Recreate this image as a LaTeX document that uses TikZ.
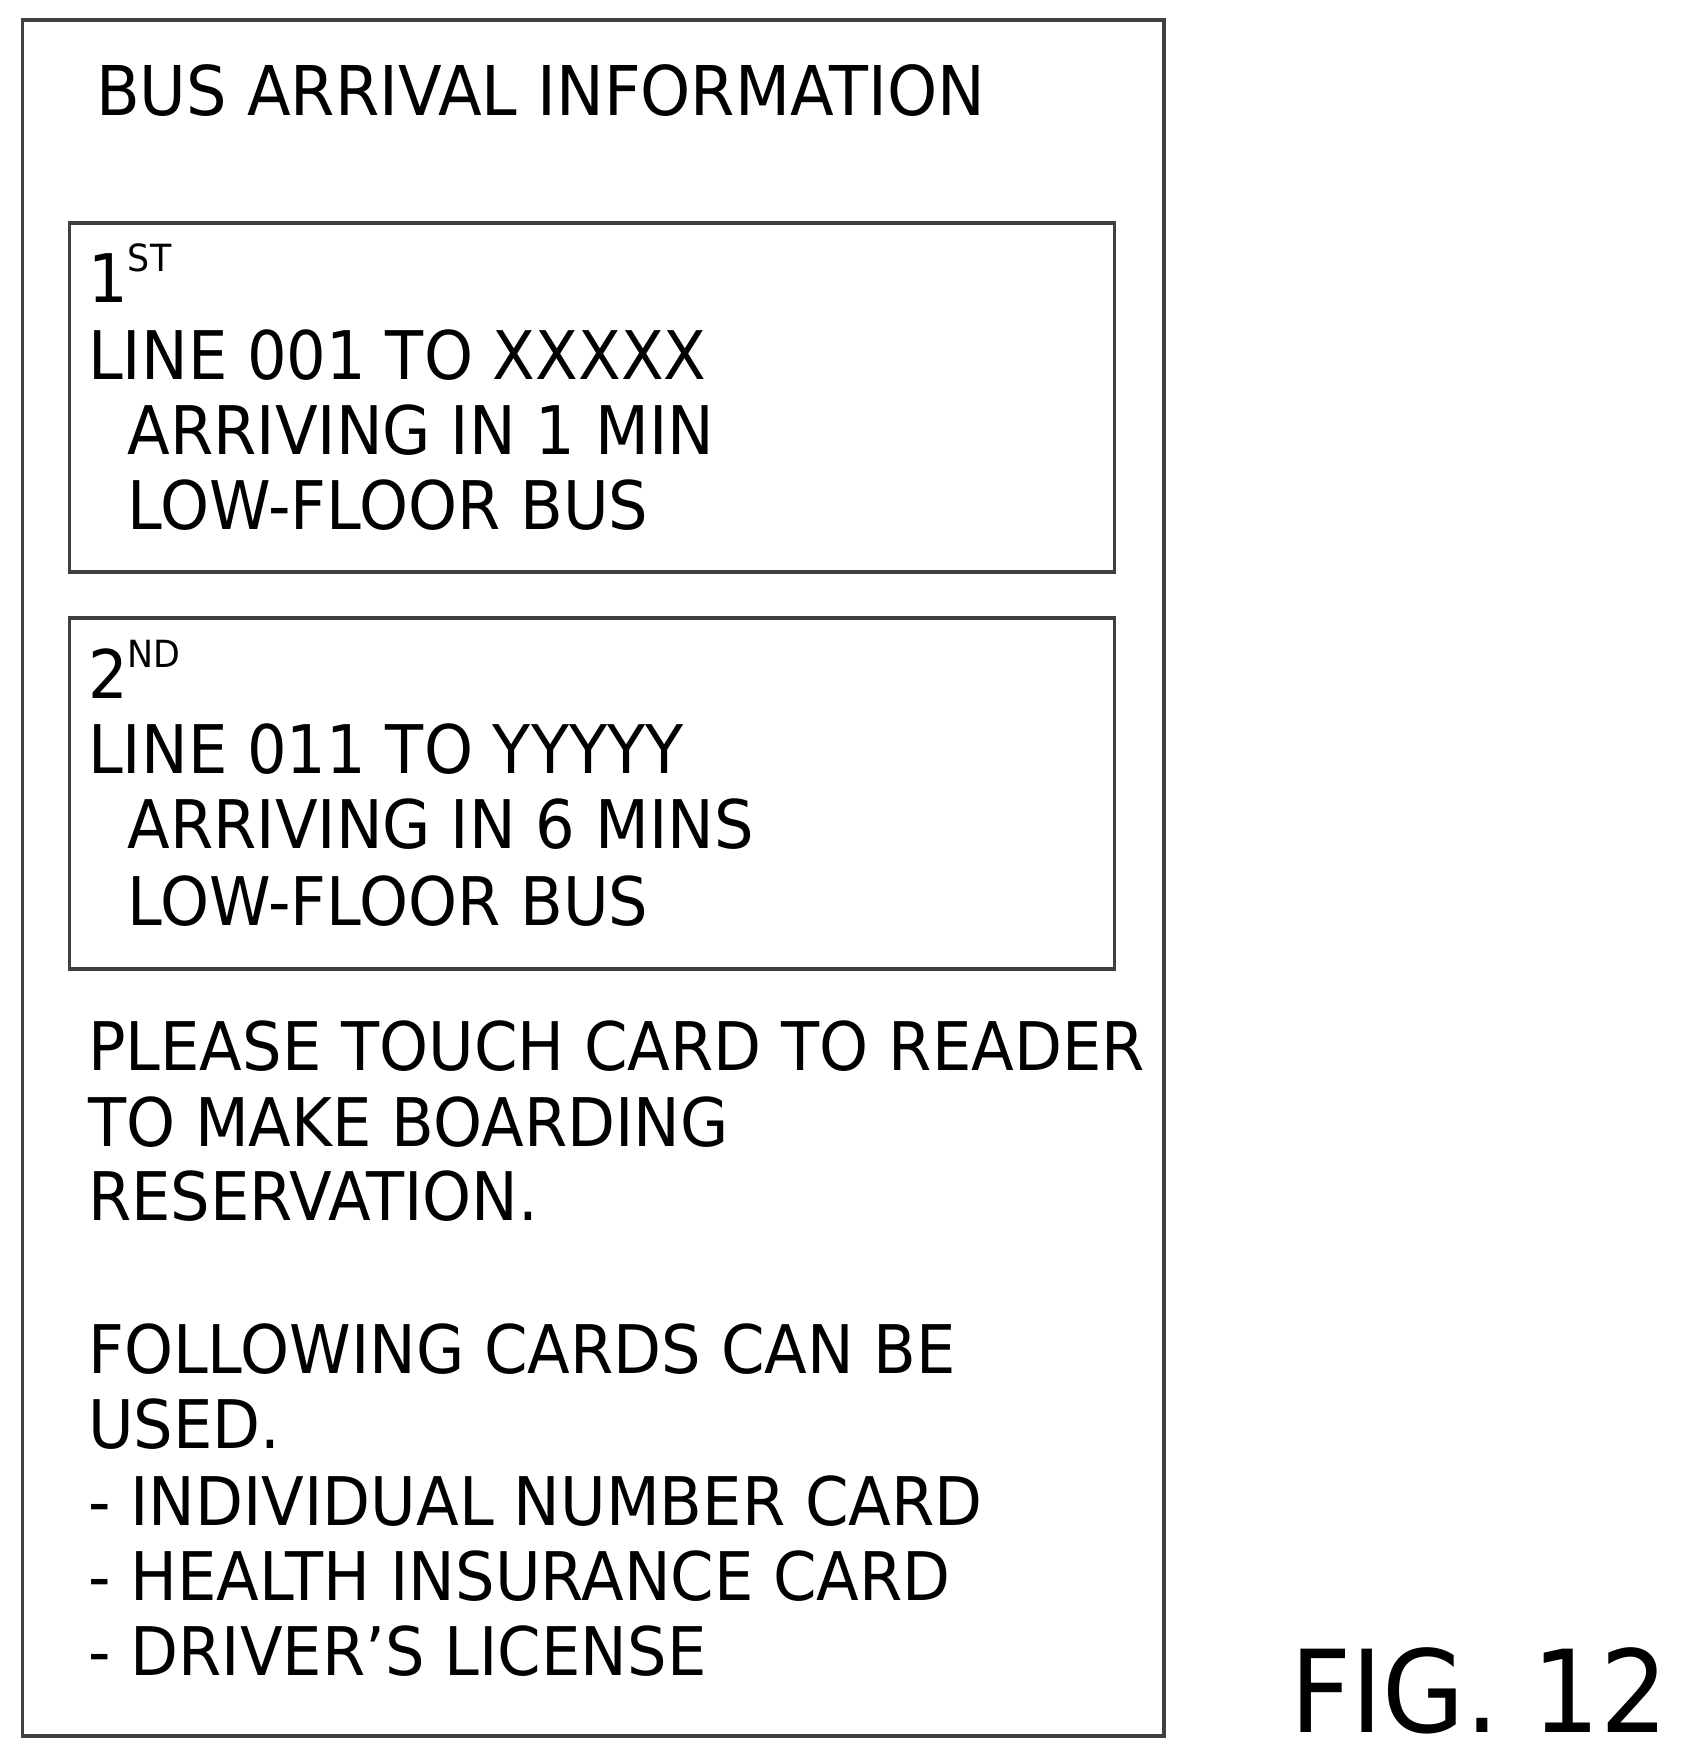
\documentclass[tikz,border=0pt]{standalone}
\usepackage{fontspec}
\setmainfont[FakeStretch=0.93]{DejaVu Sans}
\usetikzlibrary{positioning}
\tikzset{
  panel/.style={draw=black!75, line width=0.9pt},
  txt/.style={anchor=base west, inner sep=0pt, font=\fontsize{17}{20}\selectfont}
}
\newcommand{\ordsup}[1]{\raisebox{0.85ex}{\fontsize{9.5}{11}\selectfont #1}}
\begin{document}
\begin{tikzpicture}[x=0.01cm, y=-0.01cm]
  \useasboundingbox (0,0) rectangle (1500,1566);
  % frames
  \draw[panel] (20,18) rectangle (1038,1548);
  \draw[panel] (62,199) rectangle (994,510);
  \draw[panel] (62,551) rectangle (994,864);

  % title
  \node[txt, font=\fontsize{17.4}{20}\selectfont] (title) at (85,103) {BUS ARRIVAL INFORMATION};

  % first bus
  \node[txt] (first) at (78,270) {1\ordsup{ST}};
  \node[txt] (line1) at (78,338) {LINE 001 TO XXXXX};
  \node[txt] (arr1) at (113,405) {ARRIVING IN 1 MIN};
  \node[txt] (low1) at (113,472) {LOW-FLOOR BUS};

  % second bus
  \node[txt] (second) at (78,623) {2\ordsup{ND}};
  \node[txt] (line2) at (78,690) {LINE 011 TO YYYYY};
  \node[txt] (arr2) at (113,757) {ARRIVING IN 6 MINS};
  \node[txt] (low2) at (113,825) {LOW-FLOOR BUS};

  % message
  \node[txt] (msg1) at (78,955) {PLEASE TOUCH CARD TO READER};
  \node[txt] (msg2) at (78,1022) {TO MAKE BOARDING};
  \node[txt] (msg3) at (78,1088) {RESERVATION.};

  % cards
  \node[txt] (cards1) at (78,1225) {FOLLOWING CARDS CAN BE};
  \node[txt] (cards2) at (78,1292) {USED.};
  \node[txt] (card1) at (78,1360) {- INDIVIDUAL NUMBER CARD};
  \node[txt] (card2) at (78,1427) {- HEALTH INSURANCE CARD};
  \node[txt] (card3) at (78,1494) {- DRIVER{\char"0027}S LICENSE};

  % figure label
  \node[anchor=base west, inner sep=0pt, font=\fontsize{29}{32}\selectfont] (fig) at (1150,1545) {FIG. 12};
\end{tikzpicture}
\end{document}
